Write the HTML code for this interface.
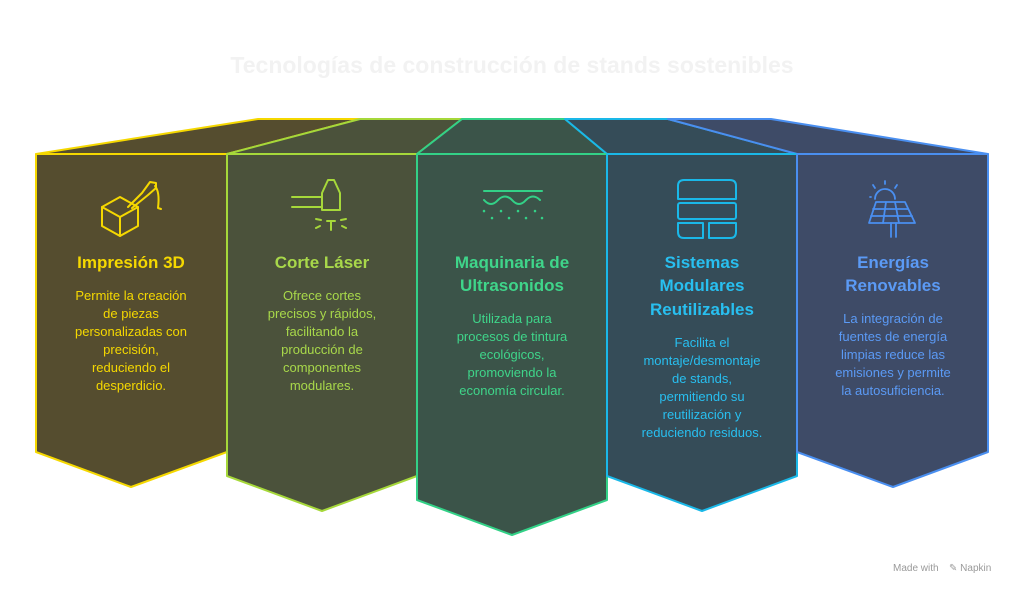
<!DOCTYPE html>
<html><head><meta charset="utf-8"><style>
html,body{margin:0;padding:0;background:#fff;width:1024px;height:595px;overflow:hidden}
text{font-family:"Liberation Sans",sans-serif}
.t{font-weight:bold;font-size:17px;text-anchor:middle}
.b{font-size:13px;text-anchor:middle}
</style></head><body>
<svg width="1024" height="595" viewBox="0 0 1024 595" xmlns="http://www.w3.org/2000/svg">
<text x="512" y="73" text-anchor="middle" style="font-weight:bold;font-size:23px;fill:#f2f2f2">Tecnologías de construcción de stands sostenibles</text>
<g stroke-width="2" stroke-linejoin="round">
<polygon points="36,154 258,119 360,119 227,154" fill="#554d2f" stroke="#f5d800"/>
<polygon points="227,154 360,119 462,119 417,154" fill="#4b523b" stroke="#a6d83a"/>
<polygon points="417,154 462,119 565,119 607,154" fill="#3b5449" stroke="#33d187"/>
<polygon points="607,154 565,119 668,119 797,154" fill="#354c58" stroke="#1ab8e8"/>
<polygon points="797,154 668,119 771,119 988,154" fill="#3e4b67" stroke="#4a8ff0"/>
<polygon points="36,154 227,154 227,452 131,487 36,452" fill="#554d2f" stroke="#f5d800"/>
<polygon points="227,154 417,154 417,476 322,511 227,476" fill="#4b523b" stroke="#a6d83a"/>
<polygon points="417,154 607,154 607,500 512,535 417,500" fill="#3b5449" stroke="#33d187"/>
<polygon points="607,154 797,154 797,476 702,511 607,476" fill="#354c58" stroke="#1ab8e8"/>
<polygon points="797,154 988,154 988,452 893,487 797,452" fill="#3e4b67" stroke="#4a8ff0"/>
</g>
<g fill="none" stroke-width="2" stroke-linecap="round" stroke-linejoin="round">
<g stroke="#f5d800">
<polygon points="102,207 120,197 138,207 120,217"/><polyline points="102,207 102,226 120,236 138,226 138,207"/><line x1="120" y1="217" x2="120" y2="236"/>
<polyline points="128,207 142,193 150,182 156,183 156,188 148,195 132,208"/><path d="M155,186 Q160,192 158,208 L161,209"/>
</g>
<g stroke="#a6d83a">
<line x1="292" y1="197" x2="322" y2="197"/><line x1="292" y1="207" x2="322" y2="207"/>
<path d="M322,210 L322,193 L328,180 L334,180 L340,193 L340,210 Z"/>
<line x1="331" y1="221" x2="331" y2="230"/><line x1="327" y1="221" x2="335" y2="221"/>
<line x1="316" y1="219" x2="321" y2="220"/><line x1="341" y1="220" x2="346" y2="219"/><line x1="316" y1="228" x2="320" y2="226"/><line x1="342" y1="226" x2="346" y2="228"/>
</g>
<g stroke="#33d187">
<line x1="484" y1="191" x2="542" y2="191"/><path d="M484,200 Q491,208 498,200 Q505,193 512,200 Q519,208 526,200 Q533,193 540,200"/>
<g stroke-width="2.5"><line x1="484" y1="211" x2="484" y2="211.1"/><line x1="501" y1="211" x2="501" y2="211.1"/><line x1="518" y1="211" x2="518" y2="211.1"/><line x1="535" y1="211" x2="535" y2="211.1"/><line x1="492" y1="218" x2="492" y2="218.1"/><line x1="509" y1="218" x2="509" y2="218.1"/><line x1="526" y1="218" x2="526" y2="218.1"/><line x1="542" y1="218" x2="542" y2="218.1"/></g>
</g>
<g stroke="#1ab8e8">
<path d="M678,199 L678,186 Q678,180 684,180 L730,180 Q736,180 736,186 L736,199 Z"/>
<rect x="678" y="203" width="58" height="16" rx="2"/>
<path d="M678,223 L703,223 L703,238 L684,238 Q678,238 678,232 Z"/><path d="M709,223 L736,223 L736,232 Q736,238 730,238 L709,238 Z"/>
</g>
<g stroke="#4a8ff0" stroke-width="1.8">
<path d="M875,199 A10,10 0 0 1 895,199"/><line x1="885" y1="181" x2="885" y2="184"/><line x1="873" y1="185" x2="875" y2="188"/><line x1="897" y1="185" x2="895" y2="188"/><line x1="870" y1="197" x2="871" y2="197"/>
<polygon points="876,202 905,202 915,223 869,223"/><line x1="873" y1="209" x2="908" y2="209"/><line x1="871" y1="216" x2="912" y2="216"/>
<line x1="886" y1="202" x2="883" y2="223"/><line x1="895" y1="202" x2="899" y2="223"/>
<line x1="891" y1="223" x2="891" y2="237"/><line x1="896" y1="223" x2="896" y2="237"/>
</g>
</g>
<g fill="#f5d800"><text class="t" x="131" y="268">Impresión 3D</text>
<text class="b" x="131" y="300">Permite la creación</text><text class="b" x="131" y="318">de piezas</text><text class="b" x="131" y="336">personalizadas con</text><text class="b" x="131" y="354">precisión,</text><text class="b" x="131" y="372">reduciendo el</text><text class="b" x="131" y="390">desperdicio.</text></g>
<g fill="#a8d84a"><text class="t" x="322" y="268">Corte Láser</text>
<text class="b" x="322" y="300">Ofrece cortes</text><text class="b" x="322" y="318">precisos y rápidos,</text><text class="b" x="322" y="336">facilitando la</text><text class="b" x="322" y="354">producción de</text><text class="b" x="322" y="372">componentes</text><text class="b" x="322" y="390">modulares.</text></g>
<g fill="#3fd58a"><text class="t" x="512" y="268">Maquinaria de</text><text class="t" x="512" y="291">Ultrasonidos</text>
<text class="b" x="512" y="323">Utilizada para</text><text class="b" x="512" y="341">procesos de tintura</text><text class="b" x="512" y="359">ecológicos,</text><text class="b" x="512" y="377">promoviendo la</text><text class="b" x="512" y="395">economía circular.</text></g>
<g fill="#28bff0"><text class="t" x="702" y="268">Sistemas</text><text class="t" x="702" y="291">Modulares</text><text class="t" x="702" y="315">Reutilizables</text>
<text class="b" x="702" y="347">Facilita el</text><text class="b" x="702" y="365">montaje/desmontaje</text><text class="b" x="702" y="383">de stands,</text><text class="b" x="702" y="401">permitiendo su</text><text class="b" x="702" y="419">reutilización y</text><text class="b" x="702" y="437">reduciendo residuos.</text></g>
<g fill="#5b9af5"><text class="t" x="893" y="268">Energías</text><text class="t" x="893" y="291">Renovables</text>
<text class="b" x="893" y="323">La integración de</text><text class="b" x="893" y="341">fuentes de energía</text><text class="b" x="893" y="359">limpias reduce las</text><text class="b" x="893" y="377">emisiones y permite</text><text class="b" x="893" y="395">la autosuficiencia.</text></g>
<text x="893" y="571" style="font-size:10px;fill:#9a9a9a">Made with</text>
<text x="949" y="571" style="font-size:10px;fill:#9a9a9a">✎ Napkin</text>
</svg>
</body></html>
